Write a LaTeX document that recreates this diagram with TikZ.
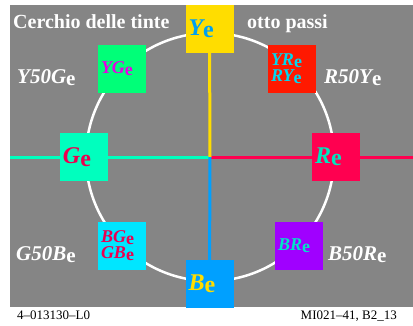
\documentclass[tikz,border=0pt]{standalone}
\usepackage{fontspec}
\setmainfont{Liberation Serif}
\definecolor{bggray}{RGB}{133,133,133}
\definecolor{ycol}{RGB}{255,221,0}
\definecolor{ytext}{RGB}{0,160,240}
\definecolor{gcol}{RGB}{0,255,190}
\definecolor{gtext}{RGB}{235,0,80}
\definecolor{rcol}{RGB}{255,0,80}
\definecolor{rtext}{RGB}{0,230,190}
\definecolor{bcol}{RGB}{0,160,255}
\definecolor{btext}{RGB}{255,221,0}
\definecolor{ygcol}{RGB}{0,255,120}
\definecolor{ygtext}{RGB}{230,0,230}
\definecolor{yrcol}{RGB}{255,25,0}
\definecolor{yrtext}{RGB}{0,215,240}
\definecolor{bgcol}{RGB}{0,230,255}
\definecolor{bgtext}{RGB}{235,0,80}
\definecolor{brcol}{RGB}{160,0,255}
\definecolor{brtext}{RGB}{0,230,200}
\newcommand{\hue}[1]{{\itshape #1}\raisebox{-0.1em}{\upshape e}}
\tikzset{
  hbox/.style={minimum width=48pt, minimum height=48pt, inner xsep=3pt, inner ysep=0pt,
    text width=42pt, align=left, font=\fontsize{24}{24}\selectfont\bfseries},
  dbox/.style={hbox, font=\fontsize{18}{16}\selectfont\bfseries},
  outlab/.style={anchor=base west, inner sep=0pt, text=white, font=\fontsize{21}{21}\selectfont\bfseries},
  titlab/.style={anchor=base west, inner sep=0pt, text=white, font=\fontsize{20}{20}\selectfont\bfseries},
  foot/.style={inner sep=0pt, font=\fontsize{13}{13}\selectfont},
  axis/.style={line width=3pt}
}
\begin{document}
\begin{tikzpicture}[x=1pt,y=-1pt]
\useasboundingbox (0,0) rectangle (413,325);
\fill[bggray] (10,5) rectangle (413,307);
\coordinate (c) at (210,157);
\coordinate (lend) at (10,157);
\coordinate (rend) at (413,157);
\coordinate (yc) at (209.5,29);
\coordinate (bc) at (209.5,283.5);
\draw[white, line width=2.5pt] (c) circle [radius=124];
\draw[axis, gcol] (c) -- (lend);
\draw[axis, rcol] (c) -- (rend);
\draw[axis, ycol] (c) -- (yc);
\draw[axis, bcol] (c) -- (bc);
\node[hbox, fill=ycol, text=ytext] (Y) at (yc) {\hue{Y}};
\node[hbox, fill=bcol, text=btext] (B) at (bc) {\hue{B}};
\node[hbox, fill=gcol, text=gtext] (G) at (84,157) {\hue{G}};
\node[hbox, fill=rcol, text=rtext] (R) at (336,157) {\hue{R}};
\node[dbox, fill=ygcol, text=ygtext] (YG) at (122,68.5) {\hue{YG}};
\node[dbox, fill=yrcol, text=yrtext] (YR) at (292,68.5) {\hue{YR}\\\hue{RY}};
\node[dbox, fill=bgcol, text=bgtext] (BG) at (122,246) {\hue{BG}\\\hue{GB}};
\node[dbox, fill=brcol, text=brtext] (BR) at (299,246) {\hue{BR}};
\node[titlab] (t1) at (13,28) {Cerchio delle tinte};
\node[titlab] (t2) at (247,28) {otto passi};
\node[outlab] (l1) at (17,83) {\hue{Y50G}};
\node[outlab] (l2) at (324,83) {\hue{R50Y}};
\node[outlab] (l3) at (16,260) {\hue{G50B}};
\node[outlab] (l4) at (328,260) {\hue{B50R}};
\node[foot, anchor=base west] (f1) at (17,319) {4–013130–L0};
\node[foot, anchor=base east] (f2) at (397,319) {MI021–41, B2\_13};
\end{tikzpicture}
\end{document}
